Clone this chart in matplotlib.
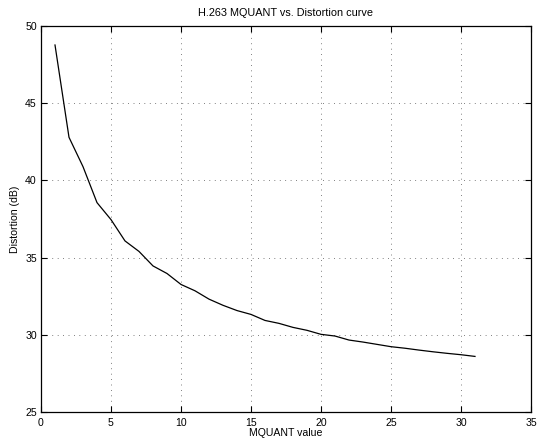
import matplotlib
matplotlib.use("Agg")
import matplotlib.pyplot as plt

# MQUANT step values and the measured distortion for each
mquant = list(range(1, 32))
distortion_db = [48.77, 42.79, 40.89, 38.56, 37.46, 36.08, 35.40, 34.46, 33.97, 33.26,
                 32.85, 32.31, 31.91, 31.57, 31.32, 30.93, 30.74, 30.48, 30.29, 30.03,
                 29.92, 29.66, 29.53, 29.38, 29.23, 29.13, 29.01, 28.90, 28.80, 28.71,
                 28.60]

x_ticks = [0, 5, 10, 15, 20, 25, 30, 35]
y_ticks = [25, 30, 35, 40, 45, 50]

plt.rcParams['font.family'] = ['Liberation Sans', 'DejaVu Sans']

fig = plt.figure(figsize=(5.39, 4.42), dpi=100)
ax = fig.add_axes([41 / 539, 1 - 412 / 442, 490 / 539, 386 / 442])

ax.plot(mquant, distortion_db, color='black', linewidth=0.9)

ax.set_xlim(0, 35)
ax.set_ylim(25, 50)
ax.set_xticks(x_ticks)
ax.set_yticks(y_ticks)

ax.grid(True, linestyle=(0, (1, 5.5)), color='#555555', linewidth=0.6)
ax.tick_params(direction='in', length=4, width=0.8, top=True, right=True,
               labelsize=7.6)
ax.tick_params(axis='x', pad=4.5)
ax.tick_params(axis='y', pad=3)
for side in ax.spines.values():
    side.set_linewidth(0.9)

ax.set_title('H.263 MQUANT vs. Distortion curve', fontsize=7.8, pad=7)
ax.set_xlabel('MQUANT value', fontsize=7.6, labelpad=0)
ax.set_ylabel('Distortion (dB)', fontsize=7.6, labelpad=4)

fig.savefig('out.png', dpi=100)
